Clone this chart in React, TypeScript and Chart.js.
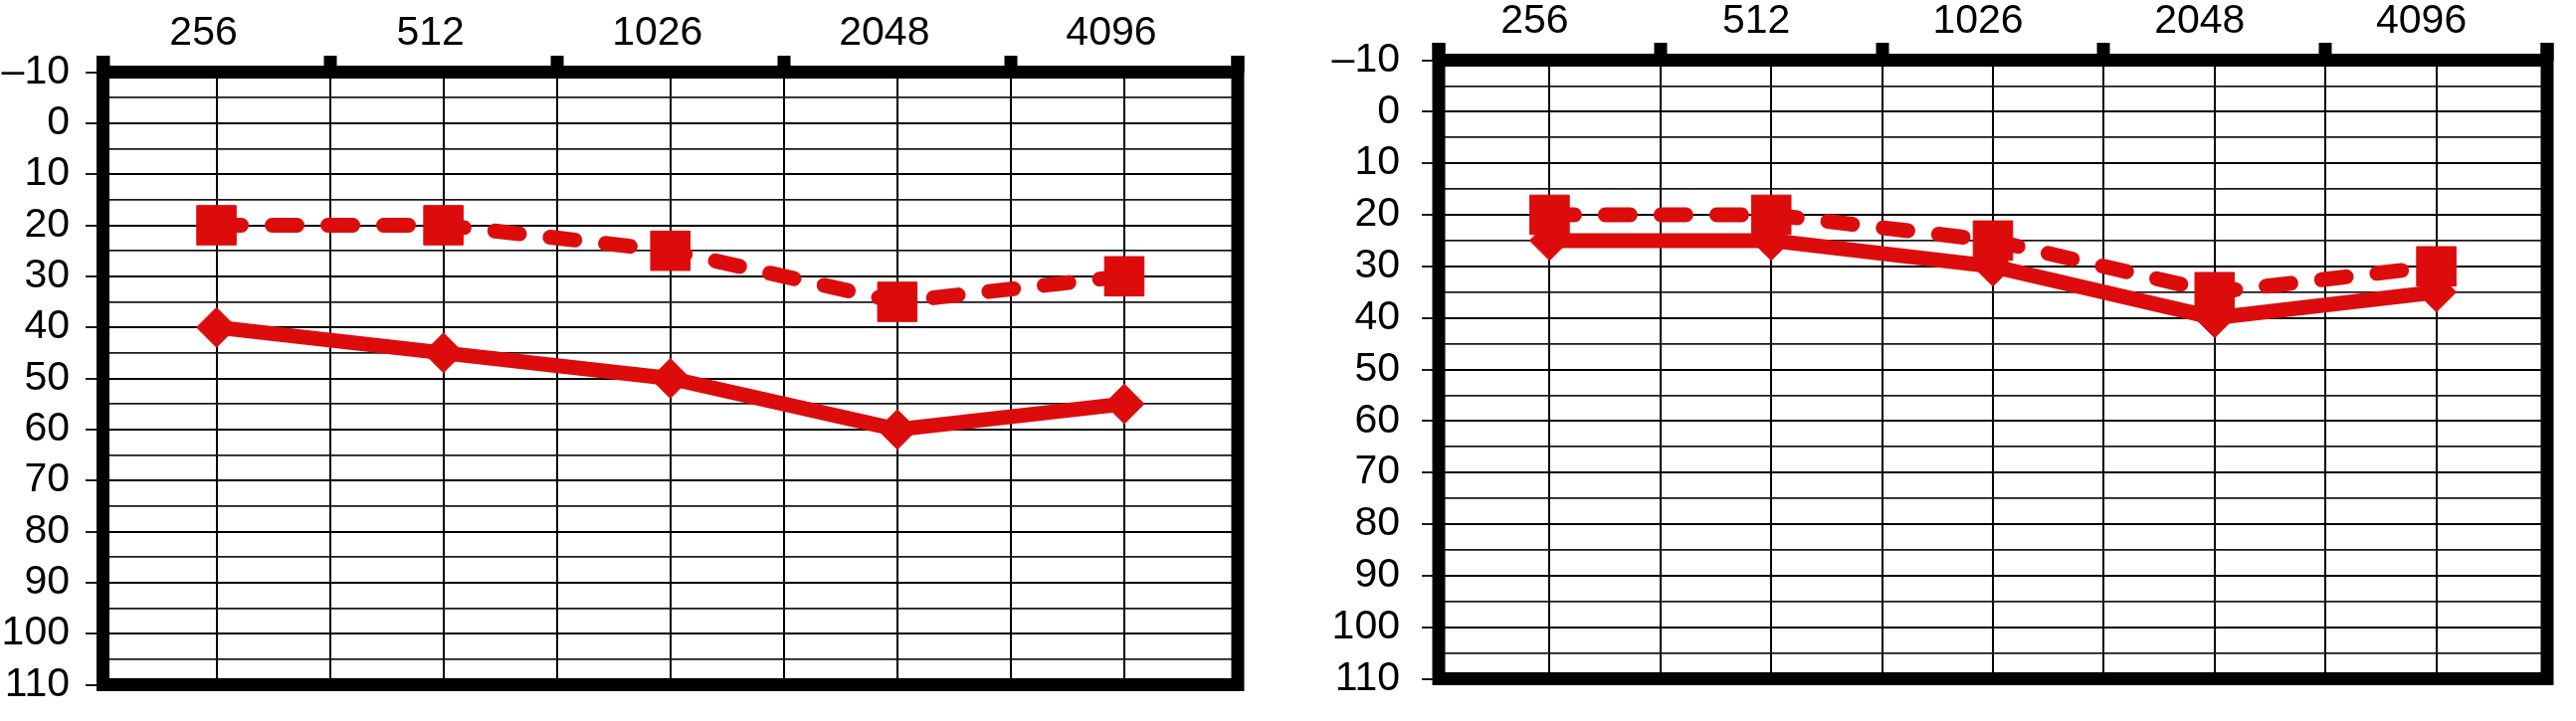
import React, { useEffect, useRef } from 'react';
import { Chart, registerables } from 'chart.js';

Chart.register(...registerables);

// ---- data ----
const FREQUENCIES = ['256', '512', '1026', '2048', '4096'];
const LEFT_DASHED = [20, 20, 25, 35, 30];
const LEFT_SOLID = [40, 45, 50, 60, 55];
const RIGHT_DASHED = [20, 20, 25, 35, 30];
const RIGHT_SOLID = [25, 25, 30, 40, 35];
const Y_MIN = -10;
const Y_MAX = 110;

const RED = '#dd0c0c';
const FONT_FAMILY = '"Liberation Sans", Arial, Helvetica, sans-serif';

type Panel = {
  canvasLeft: number;
  canvasWidth: number;
  area: { left: number; top: number; right: number; bottom: number };
  notch: number;
  yTick: number;
  yLabelPad: number;
  xLabelPad: number;
  labelOffset: number;
  dashed: number[];
  solid: number[];
};

const H = 725;

const PANELS: Panel[] = [
  {
    canvasLeft: 0,
    canvasWidth: 1290,
    area: { left: 103.5, top: 72.5, right: 1244, bottom: 699.5 },
    notch: 16.5,
    yTick: 17.5,
    yLabelPad: 16,
    xLabelPad: 2,
    labelOffset: -13,
    dashed: LEFT_DASHED,
    solid: LEFT_SOLID,
  },
  {
    canvasLeft: 1290,
    canvasWidth: 1299,
    area: { left: 156, top: 60.5, right: 1291, bottom: 700 },
    notch: 17.5,
    yTick: 17,
    yLabelPad: 22,
    xLabelPad: 0.5,
    labelOffset: -15,
    dashed: RIGHT_DASHED,
    solid: RIGHT_SOLID,
  },
];

const toPoints = (vals: number[]) => vals.map((v, i) => ({ x: i, y: v }));

const framePlugin = (notch: number) => ({
  id: 'frame',
  afterDraw(chart: any) {
    const { left, right, top, bottom } = chart.chartArea;
    const ctx = chart.ctx;
    const t = 13;
    ctx.save();
    ctx.strokeStyle = '#000';
    ctx.lineWidth = t;
    ctx.lineCap = 'butt';
    ctx.beginPath();
    ctx.moveTo(left - t / 2, top);
    ctx.lineTo(right + t / 2, top);
    ctx.moveTo(left - t / 2, bottom);
    ctx.lineTo(right + t / 2, bottom);
    ctx.moveTo(left, top - notch);
    ctx.lineTo(left, bottom + t / 2);
    ctx.moveTo(right, top - notch);
    ctx.lineTo(right, bottom + t / 2);
    ctx.stroke();
    ctx.restore();
  },
});

function AudiogramPanel({ p }: { p: Panel }) {
  const ref = useRef<HTMLCanvasElement | null>(null);
  useEffect(() => {
    if (!ref.current) return;
    const font = { family: FONT_FAMILY, size: 41, lineHeight: 1 };
    const chart = new Chart(ref.current, {
      type: 'line',
      data: {
        datasets: [
          {
            data: toPoints(p.solid),
            borderColor: RED,
            backgroundColor: RED,
            borderWidth: 15,
            pointStyle: 'rectRot',
            pointRadius: 20,
            pointBorderWidth: 1,
            pointBackgroundColor: RED,
            pointBorderColor: RED,
            borderJoinStyle: 'round',
            tension: 0,
            clip: false,
          },
          {
            data: toPoints(p.dashed),
            borderColor: RED,
            backgroundColor: RED,
            borderWidth: 15,
            borderDash: [25, 31],
            borderCapStyle: 'round',
            pointStyle: 'rect',
            pointRadius: 28,
            pointBorderWidth: 1,
            pointBackgroundColor: RED,
            pointBorderColor: RED,
            tension: 0,
            clip: false,
          },
        ],
      } as any,
      options: {
        animation: false,
        responsive: false,
        maintainAspectRatio: false,
        layout: {
          padding: {
            left: 0,
            top: 0,
            right: p.canvasWidth - p.area.right,
            bottom: H - p.area.bottom,
          },
        },
        plugins: { legend: { display: false }, tooltip: { enabled: false } },
        scales: {
          x: {
            type: 'linear',
            position: 'top',
            min: -0.5,
            max: 4.5,
            afterFit: (s: any) => {
              s.height = p.area.top;
            },
            ticks: {
              stepSize: 0.5,
              autoSkip: false,
              maxRotation: 0,
              minRotation: 0,
              padding: p.xLabelPad,
              labelOffset: p.labelOffset,
              color: '#000',
              font,
              callback: (v: any) => (Number.isInteger(v) ? FREQUENCIES[v] : ''),
            },
            grid: {
              color: '#000',
              lineWidth: 2,
              drawTicks: true,
              tickLength: p.notch,
              tickWidth: 13,
              tickColor: (c: any) =>
                c.tick && !Number.isInteger(c.tick.value) ? '#000' : 'rgba(0,0,0,0)',
            },
            border: { display: false },
          },
          y: {
            type: 'linear',
            reverse: true,
            min: Y_MIN,
            max: Y_MAX,
            afterFit: (s: any) => {
              s.width = p.area.left;
            },
            ticks: {
              stepSize: 5,
              autoSkip: false,
              padding: p.yLabelPad,
              color: '#000',
              font,
              callback: (v: any) =>
                v % 10 === 0 ? (v < 0 ? '\u2013' + Math.abs(v) : String(v)) : '',
            },
            grid: {
              color: (c: any) => (c.tick && c.tick.value % 10 === 0 ? '#000' : '#1a1a1a'),
              lineWidth: (c: any) => (c.tick && c.tick.value % 10 === 0 ? 2 : 1.8),
              drawTicks: true,
              tickLength: p.yTick,
              tickWidth: 1.8,
              tickColor: (c: any) =>
                c.tick && c.tick.value % 10 === 0 ? '#000' : 'rgba(0,0,0,0)',
            },
            border: { display: false },
          },
        },
      } as any,
      plugins: [framePlugin(p.notch)],
    });
    return () => chart.destroy();
  }, [p]);
  return (
    <canvas
      ref={ref}
      width={p.canvasWidth}
      height={H}
      style={{
        position: 'absolute',
        left: p.canvasLeft,
        top: 0,
        width: p.canvasWidth,
        height: H,
      }}
    />
  );
}

export default function App() {
  return (
    <div
      style={{
        position: 'fixed',
        left: 0,
        top: 0,
        width: 2589,
        height: H,
        background: '#fff',
        overflow: 'hidden',
      }}
    >
      {PANELS.map((p, i) => (
        <AudiogramPanel key={i} p={p} />
      ))}
    </div>
  );
}
